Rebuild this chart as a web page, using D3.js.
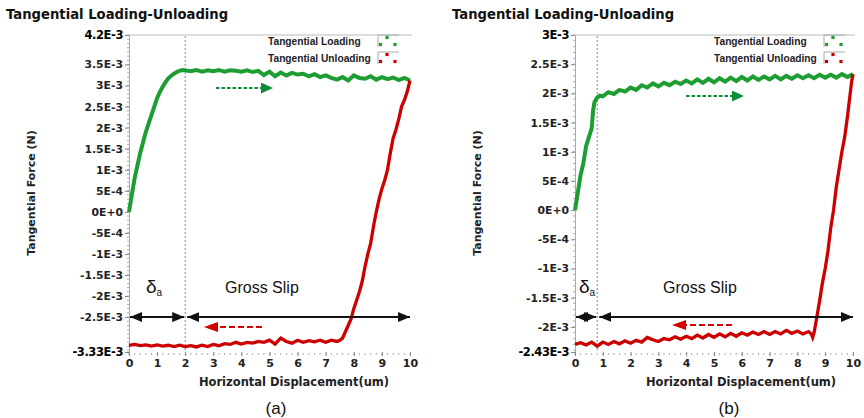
<!DOCTYPE html>
<html><head><meta charset="utf-8">
<script src="https://cdn.jsdelivr.net/npm/d3@7"></script>
<style>body{margin:0;background:#fff}svg{display:block}</style>
</head><body><svg id="c" width="864" height="418"></svg>
<script>
// ---------- DATA (force values in units of 1E-3 N) ----------
const chartTitle = "Tangential Loading-Unloading";
const xTitle = "Horizontal Displacement(um)";
const yTitle = "Tangential Force (N)";
const seriesNames = ["Tangential Loading", "Tangential Unloading"];
const panelLabels = ["(a)", "(b)"];
const xTicks = [0,1,2,3,4,5,6,7,8,9,10];

// Panel (a)
const aYTicks = [4.2,3.5,3,2.5,2,1.5,1,0.5,0,-0.5,-1,-1.5,-2,-2.5,-3.33];
const aYLabels = ["4.2E-3","3.5E-3","3E-3","2.5E-3","2E-3","1.5E-3","1E-3","5E-4","0E+0","-5E-4","-1E-3","-1.5E-3","-2E-3","-2.5E-3","-3.33E-3"];
const aLoadX = [0,0.1,0.2,0.3,0.4,0.5,0.6,0.7,0.8,0.9,1.0,1.1,1.2,1.3,1.4,1.5,1.6,1.7,1.8,1.9,2.0,
  2.2,2.4,2.6,2.8,3.0,3.2,3.4,3.6,3.8,4.0,4.2,4.4,4.6,4.8,5.0,5.2,5.4,5.6,5.8,6.0,6.2,6.4,6.6,6.8,7.0,7.2,7.4,7.6,7.8,8.0,8.2,8.4,8.6,8.8,9.0,9.2,9.4,9.6,9.8,10.0];
const aLoadY = [0,0.4,0.8,1.1,1.4,1.65,1.9,2.1,2.3,2.5,2.7,2.85,2.97,3.08,3.17,3.23,3.28,3.32,3.35,3.37,3.36,
  3.34,3.37,3.33,3.36,3.34,3.37,3.33,3.36,3.35,3.33,3.36,3.32,3.35,3.25,3.33,3.22,3.31,3.24,3.30,3.26,3.28,3.22,3.27,3.20,3.24,3.18,3.14,3.20,3.12,3.24,3.18,3.16,3.22,3.14,3.20,3.15,3.19,3.13,3.18,3.12];
const aUnloadX = [10.0,9.9,9.8,9.7,9.6,9.5,9.4,9.3,9.2,9.1,9.0,8.9,8.8,8.7,8.6,8.5,8.4,8.3,8.2,8.1,8.0,7.9,7.8,7.7,7.6,7.5,7.4,
  7.2,7.0,6.8,6.6,6.4,6.2,6.0,5.8,5.6,5.4,5.2,5.0,4.8,4.6,4.4,4.2,4.0,3.8,3.6,3.4,3.2,3.0,2.8,2.6,2.4,2.2,2.0,1.8,1.6,1.4,1.2,1.0,0.8,0.6,0.4,0.2,0.0];
const aUnloadY = [3.12,2.85,2.65,2.5,2.2,1.95,1.75,1.4,1.0,0.75,0.55,0.3,0.0,-0.35,-0.75,-1.0,-1.3,-1.65,-1.9,-2.1,-2.3,-2.55,-2.7,-2.85,-3.0,-3.05,-3.08,
  -3.05,-3.1,-3.05,-3.09,-3.06,-3.1,-3.05,-3.12,-3.08,-3.0,-3.14,-3.05,-3.1,-3.08,-3.12,-3.1,-3.14,-3.1,-3.15,-3.13,-3.18,-3.15,-3.2,-3.17,-3.21,-3.18,-3.2,-3.17,-3.2,-3.17,-3.19,-3.16,-3.19,-3.16,-3.18,-3.15,-3.17];

// Panel (b)
const bYTicks = [3,2.5,2,1.5,1,0.5,0,-0.5,-1,-1.5,-2,-2.43];
const bYLabels = ["3E-3","2.5E-3","2E-3","1.5E-3","1E-3","5E-4","0E+0","-5E-4","-1E-3","-1.5E-3","-2E-3","-2.43E-3"];
const bLoadX = [0,0.1,0.2,0.3,0.4,0.5,0.6,0.65,0.7,0.8,0.9,1.0,
  1.2,1.4,1.6,1.8,2.0,2.2,2.4,2.6,2.8,3.0,3.2,3.4,3.6,3.8,4.0,4.2,4.4,4.6,4.8,5.0,5.2,5.4,5.6,5.8,6.0,6.2,6.4,6.6,6.8,7.0,7.2,7.4,7.6,7.8,8.0,8.2,8.4,8.6,8.8,9.0,9.2,9.4,9.6,9.8,10.0];
const bLoadY = [0,0.3,0.6,0.8,1.1,1.25,1.4,1.7,1.85,1.93,1.96,1.95,
  2.02,1.99,2.06,2.03,2.1,2.06,2.14,2.1,2.17,2.12,2.18,2.14,2.2,2.16,2.22,2.17,2.24,2.18,2.25,2.19,2.26,2.2,2.27,2.21,2.28,2.22,2.29,2.23,2.29,2.24,2.3,2.24,2.3,2.25,2.31,2.26,2.31,2.26,2.32,2.27,2.32,2.27,2.33,2.28,2.33];
const bUnloadX = [10.0,9.95,9.9,9.85,9.8,9.7,9.6,9.5,9.4,9.3,9.2,9.1,9.0,8.9,8.8,8.7,8.6,8.55,8.5,
  8.4,8.2,8.0,7.8,7.6,7.4,7.2,7.0,6.8,6.6,6.4,6.2,6.0,5.8,5.6,5.4,5.2,5.0,4.8,4.6,4.4,4.2,4.0,3.8,3.6,3.4,3.2,3.0,2.8,2.6,2.4,2.2,2.0,1.8,1.6,1.4,1.2,1.0,0.8,0.6,0.4,0.2,0.0];
const bUnloadY = [2.33,2.2,2.0,1.8,1.6,1.25,1.0,0.7,0.4,0.0,-0.3,-0.7,-1.0,-1.25,-1.55,-1.83,-2.1,-2.18,-2.12,
  -2.08,-2.12,-2.07,-2.11,-2.06,-2.12,-2.08,-2.13,-2.08,-2.13,-2.09,-2.14,-2.1,-2.16,-2.11,-2.17,-2.12,-2.18,-2.13,-2.19,-2.14,-2.2,-2.16,-2.21,-2.17,-2.22,-2.2,-2.25,-2.22,-2.18,-2.26,-2.23,-2.28,-2.24,-2.29,-2.25,-2.3,-2.26,-2.33,-2.26,-2.31,-2.27,-2.3];

// annotation values (data units)
const aStick = 2.0, bStick = 0.8;          // end of delta_a region
const aArrowY = -2.5, bArrowY = -1.83;     // level of the black double arrows

// ---------- DRAWING ----------
const svg = d3.select("#c");
const GREEN = "#1e9e32", RED = "#cc0000";
const FONT = "'DejaVu Sans', sans-serif";

svg.append("defs").html(`
  <marker id="hk" viewBox="0 0 12 10" refX="12" refY="5" markerWidth="12" markerHeight="10" markerUnits="userSpaceOnUse" orient="auto-start-reverse"><path d="M0,0L12,5L0,10z" fill="#111"/></marker>
  <marker id="hg" viewBox="0 0 12 11" refX="1" refY="5.5" markerWidth="12" markerHeight="11" markerUnits="userSpaceOnUse" orient="auto"><path d="M0,0L12,5.5L0,11z" fill="#0d8f3a"/></marker>
  <marker id="hr" viewBox="0 0 14 10" refX="1" refY="5" markerWidth="14" markerHeight="10" markerUnits="userSpaceOnUse" orient="auto"><path d="M0,0L14,5L0,10z" fill="#d40000"/></marker>
`);

function panel(o){
  const g = svg.append("g");
  const x = d3.scaleLinear().domain([0,10]).range([o.x0, o.x1]);
  const y = d3.scaleLinear().domain([o.yTicks[o.yTicks.length-1], o.yTicks[0]]).range([352, 35]);

  // title
  g.append("text").attr("x", o.titleX).attr("y", 19).text(chartTitle)
    .attr("font-family", FONT).attr("font-weight", "bold").attr("font-size", 13.2).attr("fill", "#111");

  // frame: top line
  g.append("line").attr("x1", x(0)).attr("x2", x(10)+2).attr("y1", 35).attr("y2", 35).attr("stroke", "#bbb");

  // minor ticks
  const [ylo, yhi] = y.domain();
  const minorY = d3.range(Math.ceil(ylo*10), Math.floor(yhi*10)+1).map(v => v/10);
  g.selectAll(".my").data(minorY).join("line")
    .attr("x1", x(0)-2).attr("x2", x(0)).attr("y1", d => y(d)).attr("y2", d => y(d)).attr("stroke", "#999").attr("stroke-width", 0.8);
  const minorX = d3.range(0, 51).map(v => v/5);
  g.selectAll(".mx").data(minorX).join("line")
    .attr("x1", d => x(d)).attr("x2", d => x(d)).attr("y1", 353).attr("y2", 355).attr("stroke", "#999").attr("stroke-width", 0.8);

  const ya = g.append("g").attr("transform", `translate(${x(0)},0)`)
    .call(d3.axisLeft(y).tickValues(o.yTicks).tickFormat((d,i) => o.yLabels[i]).tickSize(4).tickPadding(2));
  ya.select(".domain").attr("stroke", "#aaa");
  ya.selectAll(".tick line").attr("stroke", "#888");
  ya.selectAll(".tick text").attr("font-family", FONT).attr("font-size", 10.8).attr("font-weight", "bold").attr("fill", "#222");
  ya.selectAll(".tick text").filter((d,i) => i === 0 || i === o.yTicks.length-1)
    .attr("font-size", 11.5).attr("fill", "#000").attr("letter-spacing", -0.4);

  const xa = g.append("g").attr("transform", `translate(0,352)`)
    .call(d3.axisBottom(x).tickValues(xTicks).tickFormat(d3.format("d")).tickSize(4).tickPadding(3));
  xa.select(".domain").remove();
  xa.selectAll(".tick line").attr("stroke", "#888");
  xa.selectAll(".tick text").attr("font-family", FONT).attr("font-size", 11).attr("font-weight", "bold").attr("fill", "#222");

  // axis titles
  g.append("text").attr("x", o.xTitleX).attr("y", 386).attr("text-anchor", "middle").text(xTitle)
    .attr("font-family", FONT).attr("font-weight", "bold").attr("font-size", 11.5).attr("fill", "#222");
  g.append("text").attr("transform", `translate(${o.yTitleX},193) rotate(-90)`).attr("text-anchor", "middle").text(yTitle)
    .attr("font-family", FONT).attr("font-weight", "bold").attr("font-size", 11).attr("fill", "#222");
  g.append("text").attr("x", o.labelX).attr("y", 414).attr("text-anchor", "middle").text(o.label)
    .attr("font-family", "'Liberation Sans', Arial, sans-serif").attr("font-size", 17).attr("fill", "#111");

  // dotted vertical line at end of stick region
  g.append("line").attr("x1", x(o.stick)).attr("x2", x(o.stick)).attr("y1", 36).attr("y2", 352)
    .attr("stroke", "#777").attr("stroke-width", 0.9).attr("stroke-dasharray", "2,2");

  // legend
  const lx = x(0) + 139;
  [[GREEN, 0], [RED, 1]].forEach(([c, i]) => {
    const ty = 45 + i*17;
    g.append("text").attr("x", lx).attr("y", ty).text(seriesNames[i])
      .attr("font-family", "'Liberation Sans', Arial, sans-serif").attr("font-weight", "bold").attr("font-size", 10.2).attr("fill", "#222");
    const bx = x(0) + 249, by = 35 + i*17;
    g.append("path").attr("d", `M${bx},${by+12}V${by}H${bx+21}`).attr("fill", "none").attr("stroke", "#aaa").attr("stroke-width", 1);
    [[bx+9, by+2.5], [bx+2.5, by+9.5], [bx+17, by+9.5]].forEach(p =>
      g.append("rect").attr("x", p[0]-1.6).attr("y", p[1]-1.6).attr("width", 3.2).attr("height", 3.2).attr("fill", c));
  });

  // curves
  const line = d3.line().x(d => x(d[0])).y(d => y(d[1]));
  g.append("path").datum(d3.zip(o.loadX, o.loadY)).attr("d", line)
    .attr("fill", "none").attr("stroke", GREEN).attr("stroke-width", 4).attr("stroke-linejoin", "miter");
  g.append("path").datum(d3.zip(o.unX, o.unY)).attr("d", line)
    .attr("fill", "none").attr("stroke", RED).attr("stroke-width", 3.3).attr("stroke-linejoin", "miter");

  // black double arrows
  const ay = y(o.arrowY);
  g.append("line").attr("x1", x(0)+1).attr("x2", x(o.stick)-1).attr("y1", ay).attr("y2", ay)
    .attr("stroke", "#111").attr("stroke-width", 2).attr("marker-start", "url(#hk)").attr("marker-end", "url(#hk)");
  g.append("line").attr("x1", x(o.stick)+2).attr("x2", x(10)).attr("y1", ay).attr("y2", ay)
    .attr("stroke", "#111").attr("stroke-width", 2).attr("marker-start", "url(#hk)").attr("marker-end", "url(#hk)");

  // delta_a label
  const dt = g.append("text").attr("x", o.deltaX).attr("y", 293)
    .attr("font-family", "'Liberation Sans', Arial, sans-serif").attr("font-size", 19).attr("fill", "#111");
  dt.append("tspan").text("δ");
  dt.append("tspan").text("a").attr("font-size", 10).attr("dy", 3);

  g.append("text").attr("x", o.gsX).attr("y", 293).text("Gross Slip")
    .attr("font-family", "'Liberation Sans', Arial, sans-serif").attr("font-size", 16).attr("fill", "#111");

  // dashed direction arrows
  g.append("line").attr("x1", o.gArrow[0]).attr("x2", o.gArrow[1]).attr("y1", o.gArrow[2]).attr("y2", o.gArrow[2])
    .attr("stroke", "#0d8f3a").attr("stroke-width", 2.2).attr("stroke-dasharray", "3.5,2").attr("marker-end", "url(#hg)");
  g.append("line").attr("x1", o.rArrow[0]).attr("x2", o.rArrow[1]).attr("y1", o.rArrow[2]).attr("y2", o.rArrow[2])
    .attr("stroke", "#d40000").attr("stroke-width", 2.2).attr("stroke-dasharray", "6,3").attr("marker-end", "url(#hr)");
}

panel({x0:129, x1:410, yTicks:aYTicks, yLabels:aYLabels, loadX:aLoadX, loadY:aLoadY, unX:aUnloadX, unY:aUnloadY,
  stick:aStick, arrowY:aArrowY, titleX:6, xTitleX:294, yTitleX:35, label:panelLabels[0], labelX:276,
  deltaX:146, gsX:225, gArrow:[216,262,88], rArrow:[262,217,327]});
panel({x0:575, x1:853, yTicks:bYTicks, yLabels:bYLabels, loadX:bLoadX, loadY:bLoadY, unX:bUnloadX, unY:bUnloadY,
  stick:bStick, arrowY:bArrowY, titleX:452, xTitleX:741, yTitleX:481, label:panelLabels[1], labelX:729,
  deltaX:579, gsX:663, gArrow:[686,733,96], rArrow:[732,685,325]});
</script></body></html>
